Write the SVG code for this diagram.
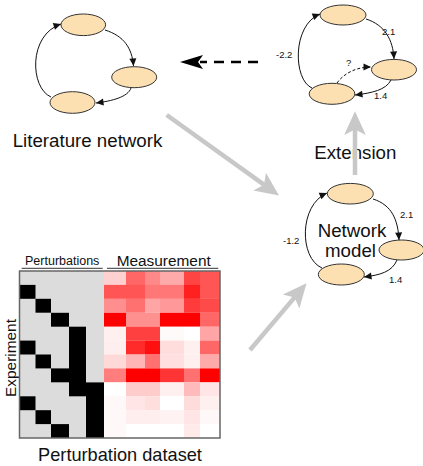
<svg xmlns="http://www.w3.org/2000/svg" width="423" height="466" viewBox="0 0 423 466">
<style>
.nd{fill:#fde0b2;stroke:#333;stroke-width:1}
.ed{fill:none;stroke:#111;stroke-width:1}
.lbl{font-family:"Liberation Sans",Arial,sans-serif;font-size:9.5px;fill:#111}
.big{font-family:"Liberation Sans",Arial,sans-serif;font-size:18.7px;fill:#111}
.ga{stroke:#c8c8c8;stroke-width:4.5;fill:none}
.blk{fill:#000}
</style>
<defs>
<marker id="ah" markerUnits="userSpaceOnUse" markerWidth="10" markerHeight="10" viewBox="-7 -4 8 8" refX="0" refY="0" orient="auto">
<path d="M0,0 L-6,-2.8 L-6,2.8 Z" fill="#111"/>
</marker>
<marker id="gah" markerUnits="userSpaceOnUse" markerWidth="30" markerHeight="26" viewBox="-14 -12 26 24" refX="0" refY="0" orient="auto">
<path d="M10,0 L-12,-10 L-7,0 L-12,10 Z" fill="#c8c8c8"/>
</marker>
</defs>
<rect width="423" height="466" fill="#fff"/>

<!-- Literature network -->
<g id="lit-top"><ellipse class="nd" cx="83.3" cy="24.8" rx="22.3" ry="10.8"/></g>
<g id="lit-right"><ellipse class="nd" cx="134.2" cy="77.2" rx="22.5" ry="10.5"/></g>
<g id="lit-bottom"><ellipse class="nd" cx="72.5" cy="102.5" rx="22.5" ry="10.8"/></g>
<g id="lit-label"><text class="big" x="87.5" y="146.7" text-anchor="middle">Literature network</text></g>

<!-- Extension network -->
<g id="ext-top"><ellipse class="nd" cx="343" cy="15" rx="23" ry="10"/></g>
<g id="ext-right"><ellipse class="nd" cx="394" cy="69.7" rx="22.5" ry="10.3"/></g>
<g id="ext-bottom"><ellipse class="nd" cx="332" cy="93.8" rx="22.8" ry="10.5"/></g>
<g id="ext-label"><text class="big" x="355.3" y="159.3" text-anchor="middle">Extension</text></g>

<!-- Network model -->
<g id="mod-top"><ellipse class="nd" cx="350.3" cy="193.7" rx="23" ry="10.3"/></g>
<g id="mod-right"><ellipse class="nd" cx="401.5" cy="250" rx="22.5" ry="10"/></g>
<g id="mod-bottom"><ellipse class="nd" cx="341.3" cy="274.5" rx="23" ry="10.5"/></g>
<g id="mod-label"><text class="big" x="352" y="236.7" text-anchor="middle">Network</text><text class="big" x="350.5" y="257.3" text-anchor="middle">model</text></g>

<!-- Perturbation dataset -->
<g id="dataset">
<text x="62.2" y="265" text-anchor="middle" style="font-family:'Liberation Sans',Arial,sans-serif;font-size:12.5px;fill:#111">Perturbations</text>
<line x1="21.7" y1="268.3" x2="102.7" y2="268.3" stroke="#333" stroke-width="1"/>
<text x="163.7" y="266" text-anchor="middle" style="font-family:'Liberation Sans',Arial,sans-serif;font-size:15.4px;fill:#111">Measurement</text>
<line x1="107" y1="268.3" x2="218.3" y2="268.3" stroke="#333" stroke-width="1"/>
<text transform="translate(15.5,358) rotate(-90)" text-anchor="middle" style="font-family:'Liberation Sans',Arial,sans-serif;font-size:15.4px;fill:#111">Experiment</text>
<rect x="19.5" y="271" width="84.5" height="167" fill="#dcdcdc"/>
<rect class="blk" x="19.5" y="284.9" width="16" height="13.9"/>
<rect class="blk" x="35.5" y="298.8" width="15.5" height="13.9"/>
<rect class="blk" x="51" y="312.8" width="18" height="13.9"/>
<rect class="blk" x="69" y="326.7" width="17" height="69.6"/>
<rect class="blk" x="19.5" y="340.6" width="16" height="13.9"/>
<rect class="blk" x="35.5" y="354.5" width="15.5" height="13.9"/>
<rect class="blk" x="51" y="368.4" width="18" height="13.9"/>
<rect class="blk" x="86" y="382.4" width="18" height="55.6"/>
<rect class="blk" x="19.5" y="396.3" width="16" height="13.9"/>
<rect class="blk" x="35.5" y="410.2" width="15.5" height="13.9"/>
<rect class="blk" x="51" y="424.1" width="18" height="13.9"/>
<g id="m-r0">
<rect x="104" y="271" width="22" height="14" fill="#ffd0d0"/><rect x="126" y="271" width="19" height="14" fill="#ff6666"/><rect x="145" y="271" width="15" height="14" fill="#ff8888"/><rect x="160" y="271" width="24" height="14" fill="#ffaaaa"/><rect x="184" y="271" width="16" height="14" fill="#ff4444"/><rect x="200" y="271" width="20" height="14" fill="#ff5555"/>
</g>
<g id="m-r1">
<rect x="104" y="284.9" width="22" height="14" fill="#ff5555"/><rect x="126" y="284.9" width="19" height="14" fill="#ff5555"/><rect x="145" y="284.9" width="15" height="14" fill="#ff7777"/><rect x="160" y="284.9" width="24" height="14" fill="#ff7777"/><rect x="184" y="284.9" width="16" height="14" fill="#ff2020"/><rect x="200" y="284.9" width="20" height="14" fill="#ff5555"/>
</g>
<g id="m-r2">
<rect x="104" y="298.8" width="22" height="14" fill="#ff8f8f"/><rect x="126" y="298.8" width="19" height="14" fill="#ff7070"/><rect x="145" y="298.8" width="15" height="14" fill="#ffa5a5"/><rect x="160" y="298.8" width="24" height="14" fill="#ff9999"/><rect x="184" y="298.8" width="16" height="14" fill="#ff3b3b"/><rect x="200" y="298.8" width="20" height="14" fill="#ff4a4a"/>
</g>
<g id="m-r3">
<rect x="104" y="312.8" width="22" height="14" fill="#ff0000"/><rect x="126" y="312.8" width="19" height="14" fill="#ff9090"/><rect x="145" y="312.8" width="15" height="14" fill="#ff9090"/><rect x="160" y="312.8" width="24" height="14" fill="#ff0000"/><rect x="184" y="312.8" width="16" height="14" fill="#ff0000"/><rect x="200" y="312.8" width="20" height="14" fill="#ff6666"/>
</g>
<g id="m-r4">
<rect x="104" y="326.7" width="22" height="14" fill="#fff0f0"/><rect x="126" y="326.7" width="19" height="14" fill="#ff4040"/><rect x="145" y="326.7" width="15" height="14" fill="#ff4040"/><rect x="160" y="326.7" width="24" height="14" fill="#fffafa"/><rect x="184" y="326.7" width="16" height="14" fill="#ffffff"/><rect x="200" y="326.7" width="20" height="14" fill="#ffa5a5"/>
</g>
<g id="m-r5">
<rect x="104" y="340.6" width="22" height="14" fill="#ffeeee"/><rect x="126" y="340.6" width="19" height="14" fill="#ff2a2a"/><rect x="145" y="340.6" width="15" height="14" fill="#ff1010"/><rect x="160" y="340.6" width="24" height="14" fill="#ffdddd"/><rect x="184" y="340.6" width="16" height="14" fill="#fff0f0"/><rect x="200" y="340.6" width="20" height="14" fill="#ff6666"/>
</g>
<g id="m-r6">
<rect x="104" y="354.5" width="22" height="14" fill="#ffd8d8"/><rect x="126" y="354.5" width="19" height="14" fill="#ffb5b5"/><rect x="145" y="354.5" width="15" height="14" fill="#ff7070"/><rect x="160" y="354.5" width="24" height="14" fill="#ffdfdf"/><rect x="184" y="354.5" width="16" height="14" fill="#fff0f0"/><rect x="200" y="354.5" width="20" height="14" fill="#ffaaaa"/>
</g>
<g id="m-r7">
<rect x="104" y="368.4" width="22" height="14" fill="#ff7d7d"/><rect x="126" y="368.4" width="19" height="14" fill="#ff0000"/><rect x="145" y="368.4" width="15" height="14" fill="#ff0000"/><rect x="160" y="368.4" width="24" height="14" fill="#ff3535"/><rect x="184" y="368.4" width="16" height="14" fill="#ff7070"/><rect x="200" y="368.4" width="20" height="14" fill="#ff0000"/>
</g>
<g id="m-r8">
<rect x="104" y="382.4" width="22" height="14" fill="#ffffff"/><rect x="126" y="382.4" width="19" height="14" fill="#ffcccc"/><rect x="145" y="382.4" width="15" height="14" fill="#ffcccc"/><rect x="160" y="382.4" width="24" height="14" fill="#fff0f0"/><rect x="184" y="382.4" width="16" height="14" fill="#ffbbbb"/><rect x="200" y="382.4" width="20" height="14" fill="#ffe5e5"/>
</g>
<g id="m-r9">
<rect x="104" y="396.3" width="22" height="14" fill="#fff8f8"/><rect x="126" y="396.3" width="19" height="14" fill="#ffe5e5"/><rect x="145" y="396.3" width="15" height="14" fill="#ffdede"/><rect x="160" y="396.3" width="24" height="14" fill="#ffffff"/><rect x="184" y="396.3" width="16" height="14" fill="#ffdcdc"/><rect x="200" y="396.3" width="20" height="14" fill="#fff0f0"/>
</g>
<g id="m-r10">
<rect x="104" y="410.2" width="22" height="14" fill="#fff8f8"/><rect x="126" y="410.2" width="19" height="14" fill="#ffeeee"/><rect x="145" y="410.2" width="15" height="14" fill="#ffeeee"/><rect x="160" y="410.2" width="24" height="14" fill="#fff2f2"/><rect x="184" y="410.2" width="16" height="14" fill="#ffe5e5"/><rect x="200" y="410.2" width="20" height="14" fill="#fff8f8"/>
</g>
<g id="m-r11">
<rect x="104" y="424.1" width="22" height="13.9" fill="#fff8f8"/><rect x="126" y="424.1" width="19" height="13.9" fill="#ffffff"/><rect x="145" y="424.1" width="15" height="13.9" fill="#ffffff"/><rect x="160" y="424.1" width="24" height="13.9" fill="#ffffff"/><rect x="184" y="424.1" width="16" height="13.9" fill="#ffeaea"/><rect x="200" y="424.1" width="20" height="13.9" fill="#ffffff"/>
</g>
<rect x="19.5" y="271" width="200.5" height="167" fill="none" stroke="#666" stroke-width="1.5"/>
<text class="big" x="120" y="461" text-anchor="middle" style="font-size:18.2px">Perturbation dataset</text>
</g>

<g id="connectors">
<path class="ed" d="M105,30 C124,36 132,48 133.5,66" marker-end="url(#ah)"/>
<path class="ed" d="M131,88 C128,97 112,101 96,103" marker-end="url(#ah)"/>
<path class="ed" d="M51,97 C30,88 28,35 61,24" marker-end="url(#ah)"/>
<path class="ed" d="M366,19 C385,25 393,40 394,59" marker-end="url(#ah)"/>
<path class="ed" d="M391,80 C386,90 372,93 355,95" marker-end="url(#ah)"/>
<path class="ed" d="M312,88 C293,80 292,25 320,14" marker-end="url(#ah)"/>
<path class="ed" d="M337,83 C345,72 358,67 371,67" stroke-dasharray="3,2" marker-end="url(#ah)"/>
<text class="lbl" x="382" y="35">2.1</text>
<text class="lbl" x="374" y="99">1.4</text>
<text class="lbl" x="276" y="58">-2.2</text>
<text class="lbl" x="346" y="66">?</text>
<path class="ed" d="M373,199 C392,205 398,220 399,240" marker-end="url(#ah)"/>
<path class="ed" d="M397,260 C392,272 380,275 364,277" marker-end="url(#ah)"/>
<path class="ed" d="M322,268 C299,258 299,205 327,193" marker-end="url(#ah)"/>
<text class="lbl" x="400" y="218">2.1</text>
<text class="lbl" x="389" y="283">1.4</text>
<text class="lbl" x="283" y="244">-1.2</text>
<line class="ga" x1="166.7" y1="115" x2="270.2" y2="189.2" marker-end="url(#gah)"/>
<line class="ga" x1="250" y1="350" x2="299.5" y2="291.6" marker-end="url(#gah)"/>
<line class="ga" x1="355" y1="175" x2="355" y2="122" marker-end="url(#gah)"/>
<line x1="258" y1="62" x2="200" y2="62" stroke="#000" stroke-width="2.6" stroke-dasharray="10 7"/>
<path d="M180,62 L203,55 L198,62 L203,69 Z" fill="#000"/>
</g>
</svg>
